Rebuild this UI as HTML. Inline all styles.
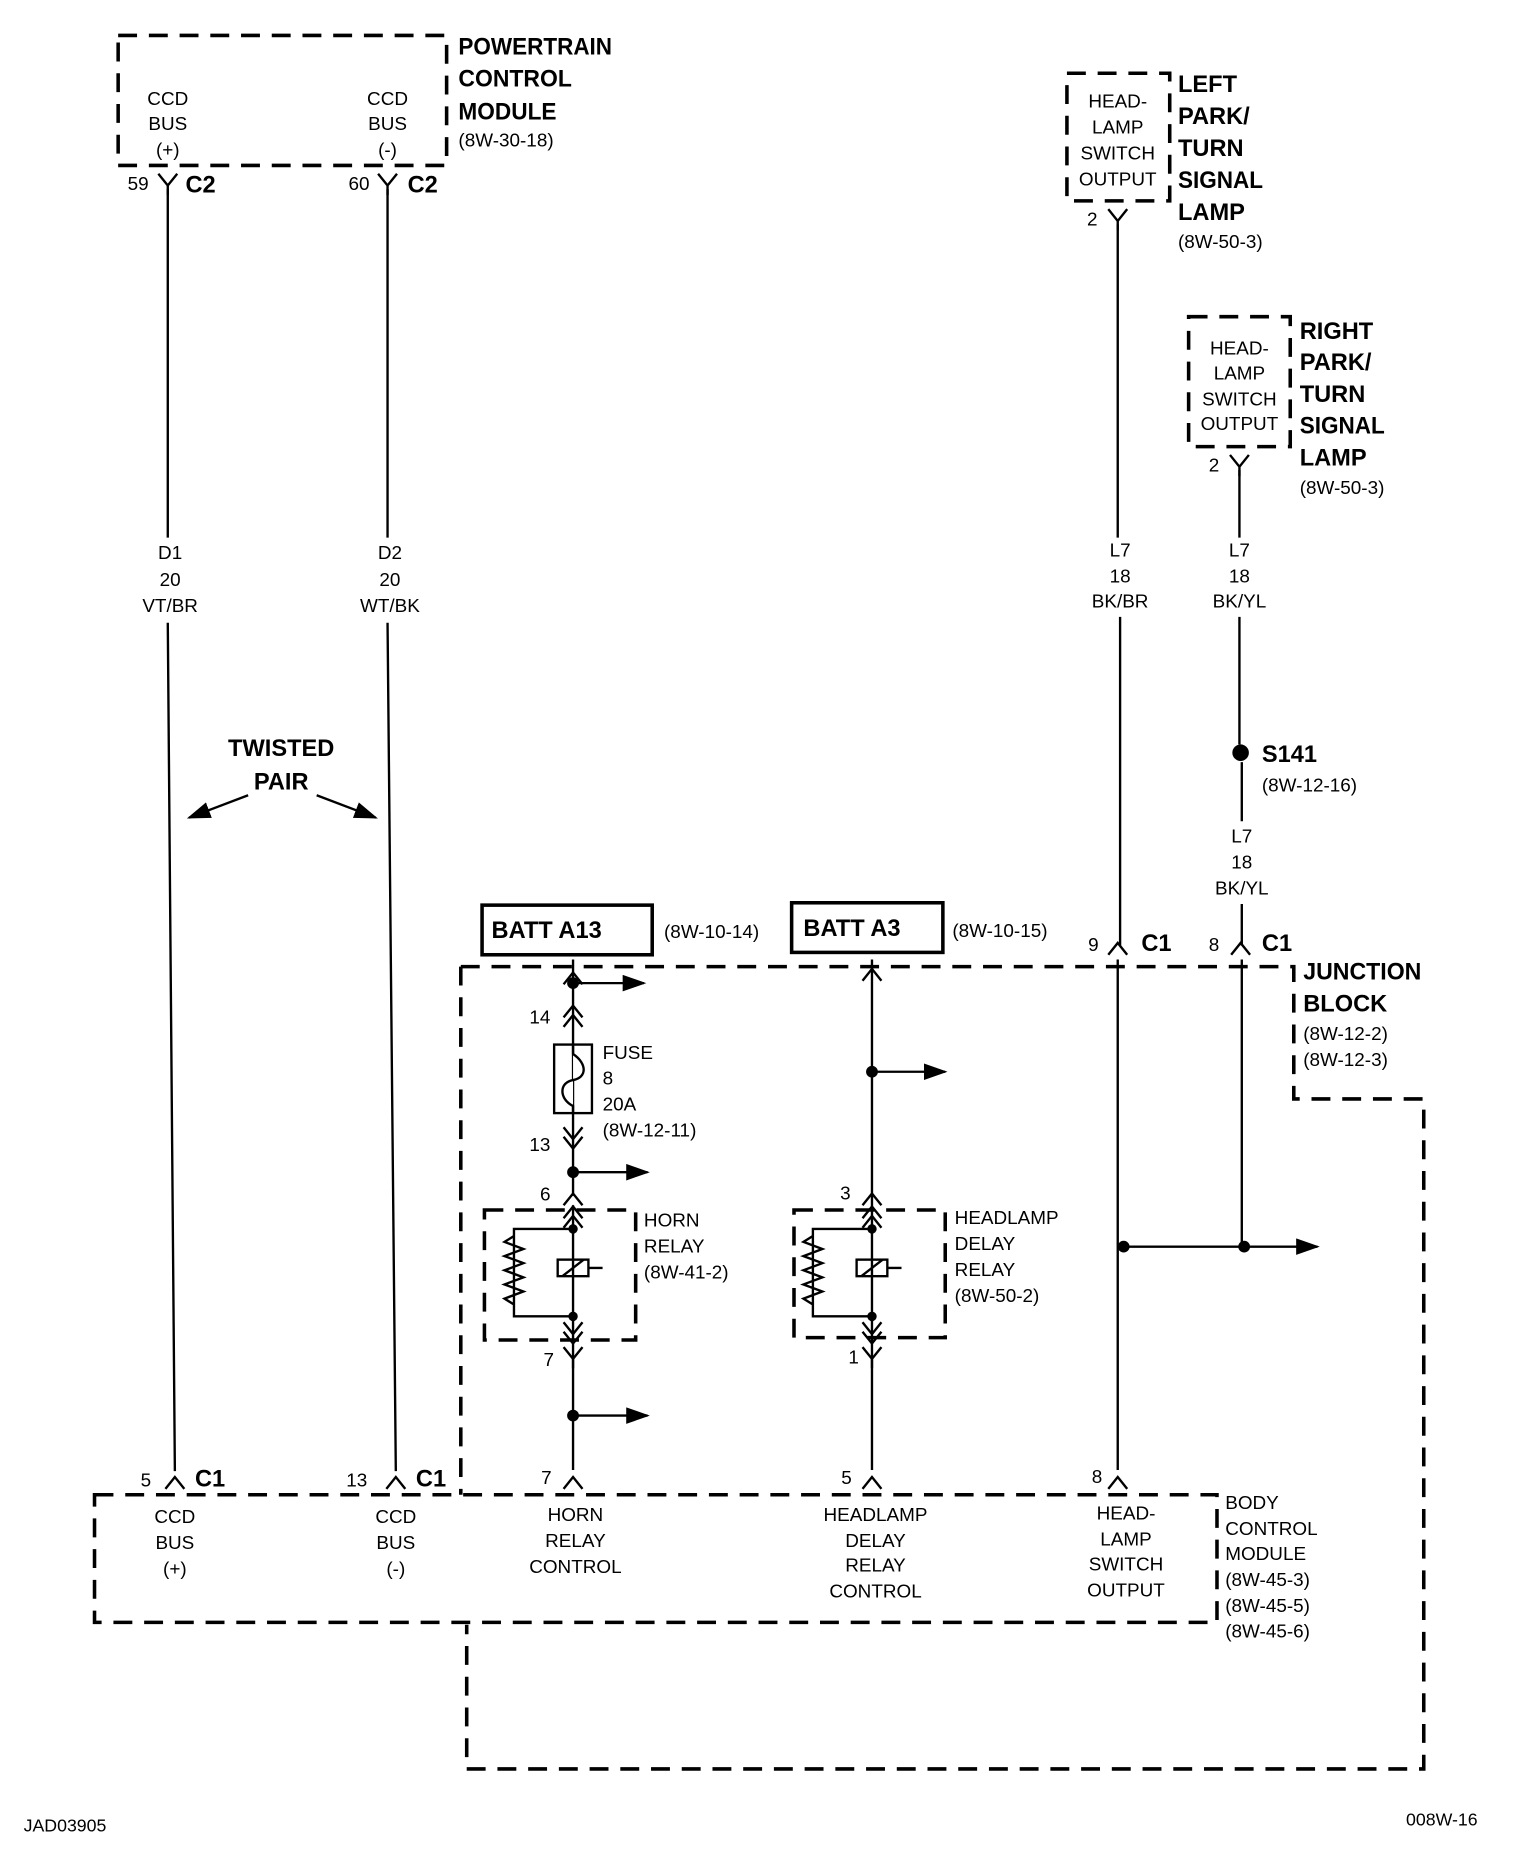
<!DOCTYPE html>
<html><head><meta charset="utf-8"><style>
html,body{margin:0;padding:0;background:#fff}
svg{display:block}
text{font-family:"Liberation Sans",sans-serif;fill:#000}
.s{font-size:16px}
.b{font-size:20px;font-weight:bold}
.m{font-size:15px}
</style></head><body>
<svg width="1536" height="1854" viewBox="0 0 1300 1569" preserveAspectRatio="none" xmlns="http://www.w3.org/2000/svg">
<defs>
<g id="yc"><path d="M-8,-8 L0,2 L8,-8 M0,2 L0,10" fill="none" stroke="#000" stroke-width="2"/></g>
<g id="ac"><path d="M-8,8 L0,-2 L8,8" fill="none" stroke="#000" stroke-width="2"/></g>
<g id="dac"><path d="M-8,6 L0,-4 L8,6 M-8,14 L0,4 L8,14" fill="none" stroke="#000" stroke-width="2"/></g>
<g id="dyc"><path d="M-8,-6 L0,4 L8,-6 M-8,-14 L0,-4 L8,-14" fill="none" stroke="#000" stroke-width="2"/></g>
<marker id="ab" markerWidth="20" markerHeight="14" refX="18" refY="7" orient="auto" markerUnits="userSpaceOnUse"><path d="M0,0 L20,7 L0,14z"/></marker>
</defs>
<g fill="none" stroke="#000" stroke-width="3" stroke-dasharray="16,10">
<rect x="100" y="30" width="278" height="110"/>
<rect x="903" y="62" width="87" height="108"/>
<rect x="1006" y="268" width="86" height="110"/>
<path d="M390,818 L1095,818 L1095,930 L1205,930 L1205,1497 L395,1497 L395,1375"/>
<path d="M390,818 L390,1265"/>
<rect x="80" y="1265" width="950" height="108"/>
<rect x="410" y="1024" width="128" height="110"/>
<rect x="672" y="1024" width="128" height="108"/>
</g>
<g fill="none" stroke="#000" stroke-width="2">
<path d="M142,160 V455 M142,527 L148,1245"/>
<path d="M328,160 V455 M328,527 L335,1245"/>
<path d="M946,190 V455 M948,522 V800"/>
<path d="M1049,398 V455 M1049,522 V630 M1051,645 V695 M1051,765 V800"/>
<path d="M946,812 V1244 M951,1055 H1053 M1051,812 V1055"/>
<path d="M485,812 V1012 M485,1020 V1244"/>
<path d="M738,812 V1244"/>
<path d="M1053,1055 H1115" marker-end="url(#ab)"/>
<path d="M485,832 H545" marker-end="url(#ab)"/>
<path d="M485,992 H548" marker-end="url(#ab)"/>
<path d="M485,1198 H548" marker-end="url(#ab)"/>
<path d="M738,907 H800" marker-end="url(#ab)"/>
<path d="M210,673 L160,692" marker-end="url(#ab)"/>
<path d="M268,673 L318,692" marker-end="url(#ab)"/>
<rect x="469" y="884" width="32" height="58" stroke-width="2"/>
<path d="M485,884 V892 C497,900 497,912 485,914 C473,916 473,930 485,936 V942" fill="#fff"/>
<rect x="408" y="766" width="144" height="42" stroke-width="3"/>
<rect x="670" y="764" width="128" height="42" stroke-width="3"/>
<path d="M485,1040 H435 V1114 H485 M435,1046 l-8,5 16,6 -16,6 16,6 -16,6 16,6 -16,6 16,6 -16,6 8,5"/>
<rect x="472" y="1066" width="26" height="14"/><path d="M476,1080 L494,1066 M498,1073 H510"/>
<path d="M738,1040 H688 V1114 H738 M688,1046 l-8,5 16,6 -16,6 16,6 -16,6 16,6 -16,6 16,6 -16,6 8,5"/>
<rect x="725" y="1066" width="26" height="14"/><path d="M729,1080 L747,1066 M751,1073 H763"/>
</g>
<g fill="#000">
<circle cx="485" cy="832" r="5"/><circle cx="485" cy="992" r="5"/><circle cx="485" cy="1198" r="5"/>
<circle cx="485" cy="1040" r="4"/><circle cx="485" cy="1114" r="4"/>
<circle cx="738" cy="907" r="5"/><circle cx="738" cy="1040" r="4"/><circle cx="738" cy="1114" r="4"/>
<circle cx="951" cy="1055" r="5"/><circle cx="1053" cy="1055" r="5"/>
<circle cx="1050" cy="637" r="7"/>
</g>
<use href="#yc" x="142" y="155"/><use href="#yc" x="328" y="155"/>
<use href="#yc" x="946" y="185"/><use href="#yc" x="1049" y="393"/>
<use href="#ac" x="148" y="1252"/><use href="#ac" x="335" y="1252"/>
<use href="#ac" x="946" y="800"/><use href="#ac" x="1050" y="800"/>
<use href="#ac" x="946" y="1252"/><use href="#ac" x="485" y="1252"/><use href="#ac" x="738" y="1252"/>
<use href="#ac" x="485" y="825"/><use href="#ac" x="738" y="822"/>
<use href="#dac" x="485" y="855"/><use href="#dyc" x="485" y="968"/>
<use href="#ac" x="485" y="1012"/><use href="#ac" x="738" y="1012"/>
<use href="#dac" x="485" y="1025"/><use href="#dac" x="738" y="1025"/>
<use href="#dyc" x="485" y="1133"/><use href="#dyc" x="738" y="1133"/>
<use href="#yc" x="485" y="1148"/><use href="#yc" x="738" y="1148"/>

<g class="s" text-anchor="middle">
<text x="142" y="89">CCD</text><text x="142" y="110">BUS</text><text x="142" y="132">(+)</text>
<text x="328" y="89">CCD</text><text x="328" y="110">BUS</text><text x="328" y="132">(-)</text>
<text x="144" y="473">D1</text><text x="144" y="496">20</text><text x="144" y="518">VT/BR</text>
<text x="330" y="473">D2</text><text x="330" y="496">20</text><text x="330" y="518">WT/BK</text>
<text x="946" y="91">HEAD-</text><text x="946" y="113">LAMP</text><text x="946" y="135">SWITCH</text><text x="946" y="157">OUTPUT</text>
<text x="1049" y="300">HEAD-</text><text x="1049" y="321">LAMP</text><text x="1049" y="343">SWITCH</text><text x="1049" y="364">OUTPUT</text>
<text x="948" y="471">L7</text><text x="948" y="493">18</text><text x="948" y="514">BK/BR</text>
<text x="1049" y="471">L7</text><text x="1049" y="493">18</text><text x="1049" y="514">BK/YL</text>
<text x="1051" y="713">L7</text><text x="1051" y="735">18</text><text x="1051" y="757">BK/YL</text>
<text x="148" y="1289">CCD</text><text x="148" y="1311">BUS</text><text x="148" y="1333">(+)</text>
<text x="335" y="1289">CCD</text><text x="335" y="1311">BUS</text><text x="335" y="1333">(-)</text>
<text x="487" y="1287">HORN</text><text x="487" y="1309">RELAY</text><text x="487" y="1331">CONTROL</text>
<text x="741" y="1287">HEADLAMP</text><text x="741" y="1309">DELAY</text><text x="741" y="1330">RELAY</text><text x="741" y="1352">CONTROL</text>
<text x="953" y="1286">HEAD-</text><text x="953" y="1308">LAMP</text><text x="953" y="1329">SWITCH</text><text x="953" y="1351">OUTPUT</text>
</g>
<g class="s">
<text x="108" y="161">59</text><text x="295" y="161">60</text>
<text x="920" y="191">2</text><text x="1023" y="399">2</text>
<text x="388" y="124">(8W-30-18)</text>
<text x="997" y="210">(8W-50-3)</text><text x="1100" y="418">(8W-50-3)</text>
<text x="1068" y="670">(8W-12-16)</text>
<text x="562" y="794">(8W-10-14)</text><text x="806" y="793">(8W-10-15)</text>
<text x="921" y="805">9</text><text x="1023" y="805">8</text>
<text x="448" y="866">14</text><text x="448" y="974">13</text>
<text x="510" y="896">FUSE</text><text x="510" y="918">8</text><text x="510" y="940">20A</text><text x="510" y="962">(8W-12-11)</text>
<text x="457" y="1016">6</text><text x="711" y="1015">3</text>
<text x="545" y="1038">HORN</text><text x="545" y="1060">RELAY</text><text x="545" y="1082">(8W-41-2)</text>
<text x="808" y="1036">HEADLAMP</text><text x="808" y="1058">DELAY</text><text x="808" y="1080">RELAY</text><text x="808" y="1102">(8W-50-2)</text>
<text x="460" y="1156">7</text><text x="718" y="1154">1</text>
<text x="119" y="1258">5</text><text x="293" y="1258">13</text><text x="458" y="1256">7</text><text x="712" y="1256">5</text><text x="924" y="1255">8</text>
<text x="1103" y="880">(8W-12-2)</text><text x="1103" y="902">(8W-12-3)</text>
<text x="1037" y="1277">BODY</text><text x="1037" y="1299">CONTROL</text><text x="1037" y="1320">MODULE</text>
<text x="1037" y="1342">(8W-45-3)</text><text x="1037" y="1364">(8W-45-5)</text><text x="1037" y="1386">(8W-45-6)</text>
<text x="20" y="1550" class="m">JAD03905</text><text x="1190" y="1545" class="m">008W-16</text>
</g>
<g class="b">
<text x="388" y="46" textLength="130" lengthAdjust="spacingAndGlyphs">POWERTRAIN</text>
<text x="388" y="73" textLength="96" lengthAdjust="spacingAndGlyphs">CONTROL</text>
<text x="388" y="101" textLength="83" lengthAdjust="spacingAndGlyphs">MODULE</text>
<text x="157" y="163">C2</text><text x="345" y="163">C2</text>
<text x="997" y="78">LEFT</text><text x="997" y="105">PARK/</text><text x="997" y="132">TURN</text><text x="997" y="159" textLength="72" lengthAdjust="spacingAndGlyphs">SIGNAL</text><text x="997" y="186">LAMP</text>
<text x="1100" y="287">RIGHT</text><text x="1100" y="313">PARK/</text><text x="1100" y="340">TURN</text><text x="1100" y="367" textLength="72" lengthAdjust="spacingAndGlyphs">SIGNAL</text><text x="1100" y="394">LAMP</text>
<text x="1068" y="645">S141</text>
<text x="238" y="640" text-anchor="middle">TWISTED</text><text x="238" y="668" text-anchor="middle">PAIR</text>
<text x="416" y="794">BATT A13</text><text x="680" y="792">BATT A3</text>
<text x="966" y="805">C1</text><text x="1068" y="805">C1</text>
<text x="1103" y="829" textLength="100" lengthAdjust="spacingAndGlyphs">JUNCTION</text><text x="1103" y="856">BLOCK</text>
<text x="165" y="1258">C1</text><text x="352" y="1258">C1</text>
</g>
</svg>
</body></html>
